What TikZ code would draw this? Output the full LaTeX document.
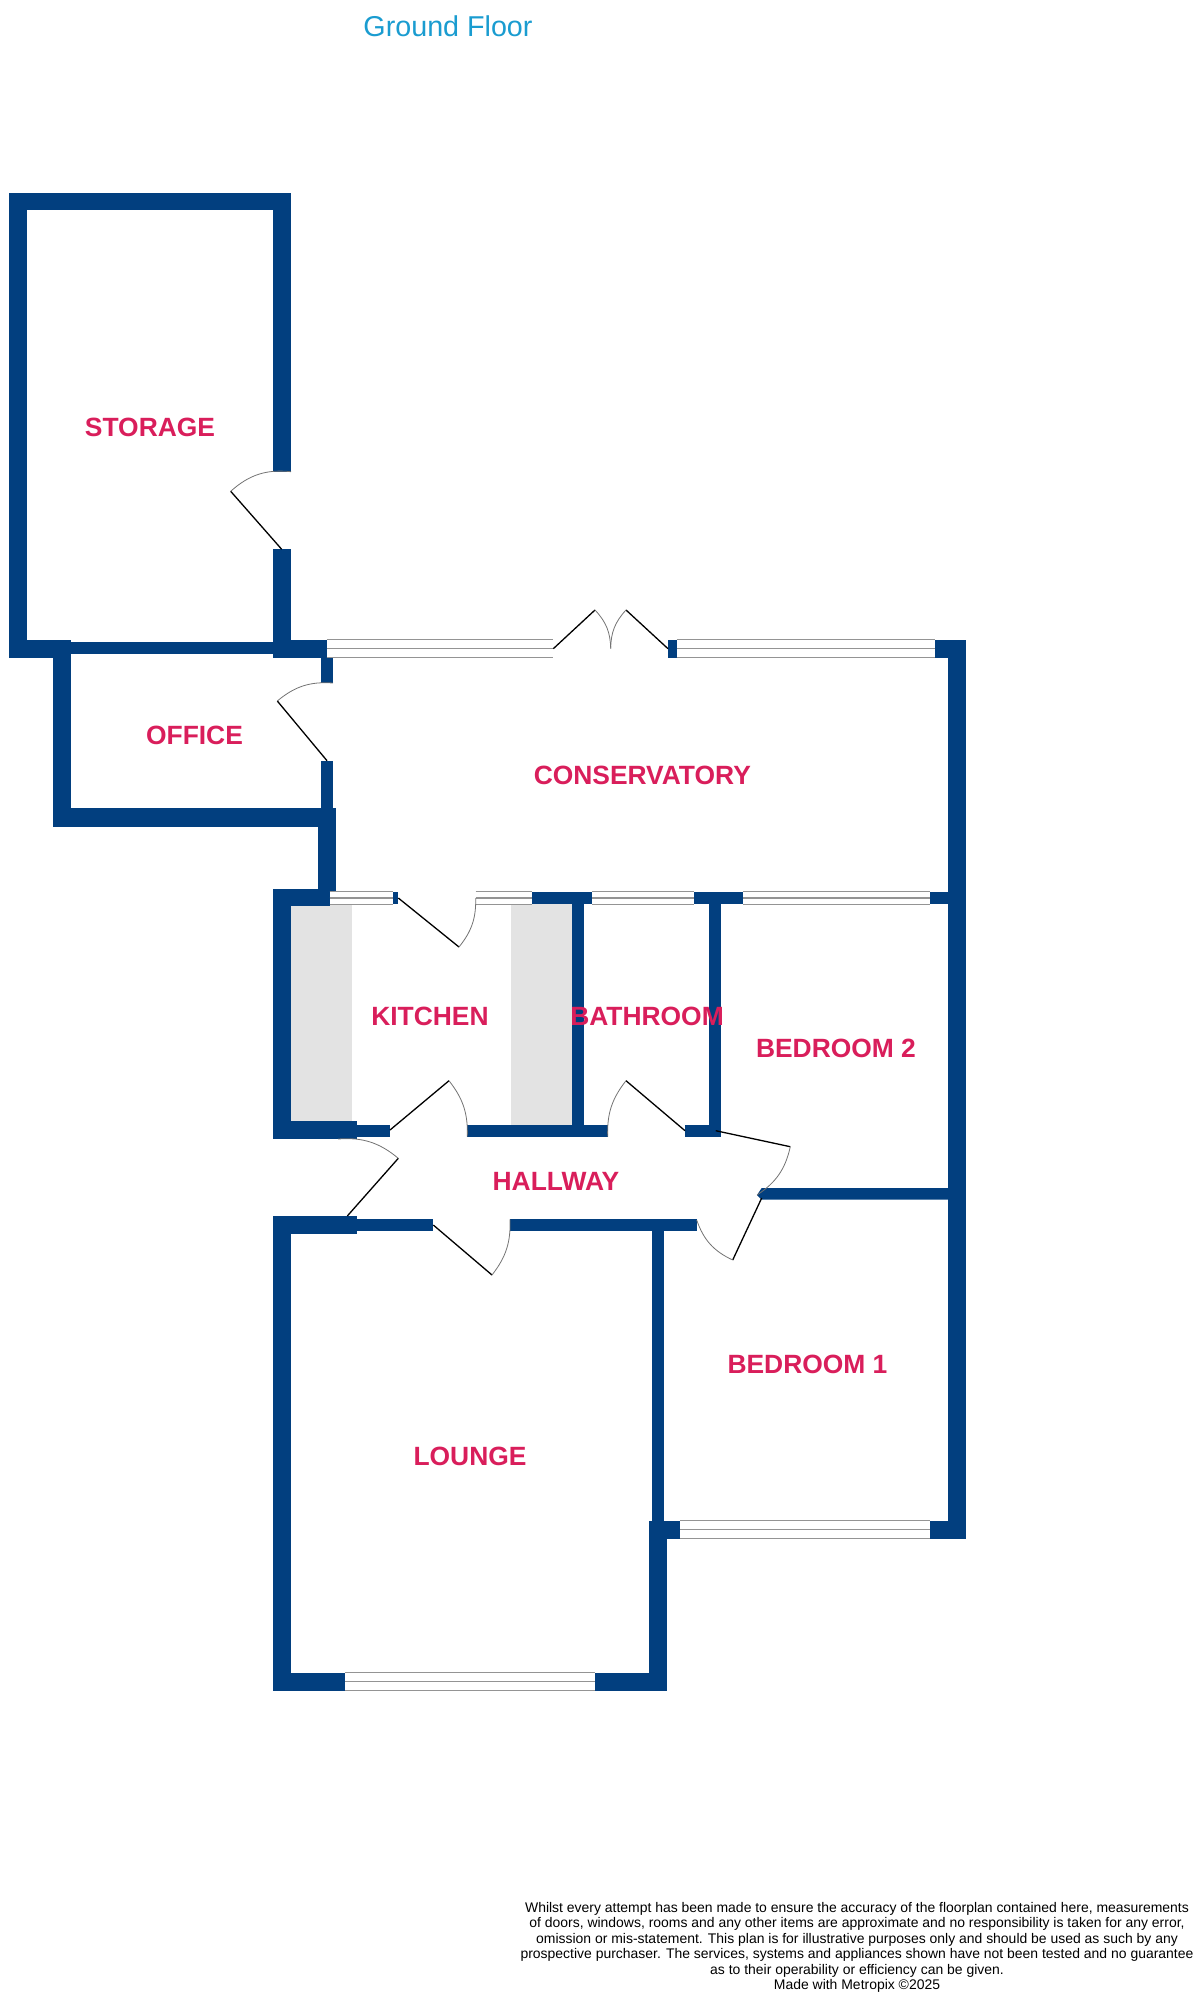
\documentclass[tikz,border=0pt]{standalone}
\usepackage{fontspec}
\setmainfont{Liberation Sans}
\usepackage{tikz}
\usetikzlibrary{positioning}
\definecolor{wallblue}{HTML}{023F7F}
\definecolor{roomred}{HTML}{D91E5B}
\definecolor{titleblue}{HTML}{1A9CD0}
\definecolor{unitgrey}{HTML}{E3E3E3}
\tikzstyle{wall} = [fill=wallblue, draw=none]
\tikzstyle{unit} = [fill=unitgrey, draw=none]
\tikzstyle{room} = [font=\fontsize{26.4}{30}\selectfont\bfseries, text=roomred, inner sep=0pt]
\tikzstyle{leaf} = [draw=black, line width=1.3pt]
\tikzstyle{swing} = [draw=black!55, line width=0.8pt]
\tikzstyle{glass} = [draw=black!42, line width=1.5pt]
\newcommand{\Window}[4]{
	\fill [white] (#1,#2) rectangle (#3,#4);
	\draw [glass] (#1,#2) -- (#3,#2);
	\draw [glass] (#1,{(#2+#4)/2}) -- (#3,{(#2+#4)/2});
	\draw [glass] (#1,#4) -- (#3,#4);
}
\begin{document}
\begin{tikzpicture}[x=1pt, y=-1pt]
	\useasboundingbox (0,0) rectangle (1200,1994);
	% fitted units
	\fill [unit] (291,904) rectangle (352.3,1122);
	\fill [unit] (510.7,904) rectangle (572,1126);
	% storage
	\fill [wall] (8.8,193) rectangle (291,210);
	\fill [wall] (8.8,193) rectangle (26.7,657.7);
	\fill [wall] (273.3,193) rectangle (291,471.7);
	\fill [wall] (273.3,549.3) rectangle (291,657.7);
	\fill [wall] (8.8,639.7) rectangle (71.3,657.7);
	% office
	\fill [wall] (53.3,639.7) rectangle (71.3,826.7);
	\fill [wall] (71.3,642.3) rectangle (273.3,654.3);
	\fill [wall] (273.3,639.7) rectangle (326.7,657.7);
	\fill [wall] (321,657.7) rectangle (333,683);
	\fill [wall] (321,760.7) rectangle (333,808.3);
	\fill [wall] (53.3,808.3) rectangle (336,826.7);
	\fill [wall] (318.3,808.3) rectangle (336,891.7);
	% conservatory
	\fill [wall] (668,639.7) rectangle (676.7,657.7);
	\fill [wall] (935,639.7) rectangle (966,657.7);
	\fill [wall] (947.7,639.7) rectangle (966,1538.7);
	% kitchen
	\fill [wall] (273.3,888.7) rectangle (329.7,906);
	\fill [wall] (273.3,888.7) rectangle (291,1139.3);
	\fill [wall] (273.3,1121) rectangle (356.7,1139.3);
	\fill [wall] (356.7,1124.7) rectangle (390,1136.7);
	\fill [wall] (393.3,891.7) rectangle (398.3,904.3);
	\fill [wall] (467.3,1124.7) rectangle (607.7,1136.7);
	\fill [wall] (532,891.7) rectangle (592,904.3);
	\fill [wall] (572,904) rectangle (584.3,1124.7);
	% bathroom
	\fill [wall] (694.3,891.7) rectangle (743.3,904.3);
	\fill [wall] (709,904) rectangle (721,1136.7);
	\fill [wall] (685,1124.7) rectangle (721,1136.7);
	\fill [wall] (930,891.7) rectangle (948,904.3);
	% bedroom 2
	\fill [wall] (757,1195) -- (761.7,1188) -- (948,1188) -- (948,1199.7) -- (761.7,1199.7) -- cycle;
	% lounge
	\fill [wall] (273,1216) rectangle (356.7,1234.3);
	\fill [wall] (273,1216) rectangle (291.3,1690.7);
	\fill [wall] (356.7,1219.3) rectangle (433.3,1231);
	\fill [wall] (510,1219.3) rectangle (696.7,1231);
	\fill [wall] (273,1672.7) rectangle (345.4,1690.7);
	\fill [wall] (595,1672.7) rectangle (667.4,1690.7);
	\fill [wall] (649,1520.7) rectangle (667.4,1690.7);
	% bedroom 1
	\fill [wall] (651.5,1231) rectangle (663.5,1521);
	\fill [wall] (649,1520.7) rectangle (680,1538.7);
	\fill [wall] (930,1520.7) rectangle (966,1538.7);
	% windows
	\Window{326.7}{639.7}{553.3}{657.3}
	\Window{676.7}{639.7}{935}{657.3}
	\Window{329.7}{891.7}{393.3}{904.3}
	\Window{475.7}{891.7}{532}{904.3}
	\Window{592}{891.7}{694.3}{904.3}
	\Window{743.3}{891.7}{930}{904.3}
	\Window{680}{1520.7}{930}{1538.7}
	\Window{345.4}{1672.7}{595}{1690.7}
	% doors
	\draw [leaf] (281.7,549.3) -- (230.7,491.3);
	\draw [swing] (230.7,491.3) to [bend left=24] (291,471.7);
	\draw [leaf] (327,760.7) -- (277.3,701);
	\draw [swing] (277.3,701) to [bend left=22] (333,683);
	\draw [leaf] (553.3,648.7) -- (595,610);
	\draw [swing] (595,610) to [bend left=21] (610.7,648.7);
	\draw [leaf] (668,648.7) -- (626,610);
	\draw [swing] (626,610) to [bend right=21] (610.7,648.7);
	\draw [leaf] (398.3,898) -- (459,947);
	\draw [swing] (459,947) to [bend right=20] (475.7,898);
	\draw [leaf] (390,1130) -- (449,1080.7);
	\draw [swing] (449,1080.7) to [bend left=20] (467.3,1136.7);
	\draw [leaf] (347.3,1216) -- (398.3,1158.3);
	\draw [swing] (398.3,1158.3) to [bend right=22] (338,1139);
	\draw [leaf] (433.3,1225) -- (492,1275);
	\draw [swing] (492,1275) to [bend right=20] (510,1219.3);
	\draw [leaf] (685,1130.7) -- (626,1080.7);
	\draw [swing] (626,1080.7) to [bend right=20] (607.7,1136.7);
	\draw [leaf] (715.7,1130.7) -- (790.3,1146.7);
	\draw [swing] (790.3,1146.7) to [bend left=22] (757,1195);
	\draw [leaf] (761.7,1198) -- (732.7,1260);
	\draw [swing] (732.7,1260) to [bend left=23] (696.7,1220);
	% labels
	\node (Title) [text=titleblue, font=\fontsize{28.7}{32}\selectfont, inner sep=0pt] at (448,26) {Ground Floor};
	\node (Storage) [room] at (150,427.5) {STORAGE};
	\node (Office) [room] at (194.5,735.5) {OFFICE};
	\node (Conservatory) [room] at (642.3,775.6) {CONSERVATORY};
	\node (Kitchen) [room] at (430,1016.7) {KITCHEN};
	\node (Bathroom) [room] at (647,1016.7) {BATHROOM};
	\node (Bedroom2) [room] at (836,1048.5) {BEDROOM 2};
	\node (Hallway) [room] at (556,1181) {HALLWAY};
	\node (Bedroom1) [room] at (807.5,1364.7) {BEDROOM 1};
	\node (Lounge) [room] at (470,1456.5) {LOUNGE};
	\node (Disclaimer) [align=center, inner sep=0pt, font=\fontsize{13.95}{15.5}\selectfont] at (857,1947.6) {Whilst every attempt has been made to ensure the accuracy of the floorplan contained here, measurements\\
		of doors, windows, rooms and any other items are approximate and no responsibility is taken for any error,\\
		omission or mis-statement. This plan is for illustrative purposes only and should be used as such by any\\
		prospective purchaser. The services, systems and appliances shown have not been tested and no guarantee\\
		as to their operability or efficiency can be given.\\
		Made with Metropix \textcopyright 2025};
\end{tikzpicture}
\end{document}
